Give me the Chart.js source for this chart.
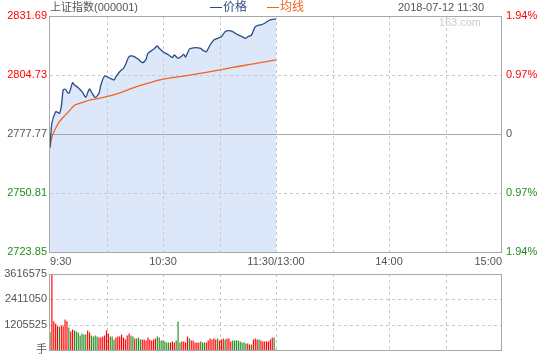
<!DOCTYPE html>
<html><head><meta charset="utf-8">
<script src="https://cdn.jsdelivr.net/npm/chart.js@4/dist/chart.umd.min.js"></script>
<style>
html,body{margin:0;padding:0;background:#fff;}
#wrap{position:relative;width:540px;height:360px;overflow:hidden;background:#fff;}
canvas{position:absolute;left:0;}
#c1{top:0;}
#c2{top:262px;}
</style></head><body>
<div id="wrap"><canvas id="c1" width="540" height="270"></canvas><canvas id="c2" width="540" height="98"></canvas></div>
<script>
// ---------- data ----------
const titleText = '上证指数(000001)';
const dateText = '2018-07-12 11:30';
const legendLabels = ['价格', '均线'];
const watermarkText = '163.com';
const basePrice = 2777.77;
const priceTicks = [2723.85, 2750.81, 2777.77, 2804.73, 2831.69];
const timeTicks = [0, 30, 60, 90, 120, 150, 180, 210, 240];
const timeLabels = {0: '9:30', 60: '10:30', 120: '11:30/13:00', 180: '14:00', 240: '15:00'};

const priceMinutes = [0, 1, 3, 4, 5, 6, 7, 8, 10, 12, 13, 15, 17, 19, 20, 21, 22, 24, 26, 27, 29, 32, 34, 35, 37, 39, 40, 42, 44, 47, 49, 51, 52, 55, 57, 58, 60, 63, 65, 66, 68, 70, 71, 72, 74, 75, 77, 80, 81, 83, 85, 87, 89, 91, 93, 95, 97, 99, 102, 104, 105, 107, 109, 111, 112, 114, 116, 118, 120];
const priceValues = [2771.5, 2782.66, 2787.96, 2787.69, 2787.23, 2790.24, 2797.88, 2798.2, 2796.37, 2801.21, 2800.16, 2798.93, 2797.1, 2794.54, 2796.64, 2798.33, 2796.96, 2794.54, 2796.37, 2800.16, 2804.3, 2803.2, 2802.45, 2803.95, 2806.24, 2807.79, 2809.3, 2813.09, 2813.41, 2811.9, 2810.35, 2811.9, 2814.65, 2816.47, 2817.98, 2816.93, 2815.38, 2813.87, 2812.64, 2813.87, 2812.36, 2813.41, 2814.19, 2812.96, 2816.61, 2816.93, 2817.2, 2816.93, 2816.15, 2815.38, 2818.44, 2820.72, 2821.5, 2822.23, 2824.52, 2824.97, 2824.52, 2823.47, 2822.23, 2821.5, 2822.23, 2823.01, 2826.8, 2827.58, 2827.58, 2828.36, 2829.54, 2830.18, 2830.32];

const avgMinutes = [0, 1, 3, 5, 8, 11, 13, 17, 21, 26, 30, 35, 40, 46, 53, 60, 69, 78, 88, 97, 108, 120];
const avgValues = [2771.5, 2776.5, 2780.4, 2783.4, 2786.3, 2789.0, 2790.9, 2792.1, 2793.3, 2794.0, 2794.8, 2796.0, 2797.5, 2799.4, 2801.2, 2802.8, 2804.0, 2805.2, 2806.7, 2808.2, 2809.8, 2811.6];

const volumeTicks = [0, 1205525, 2411050, 3616575];
const volumeValues = [865000, 3616575, 1384000, 1274000, 1148000, 1116000, 1195000, 1148000, 1462000, 1384000,
  1085000, 896000, 991000, 943000, 896000, 849000, 708000, 802000, 755000, 755000,
  943000, 849000, 708000, 660000, 708000, 660000, 613000, 613000, 660000, 708000,
  943000, 802000, 660000, 660000, 519000, 613000, 660000, 660000, 755000, 613000,
  519000, 708000, 802000, 708000, 660000, 566000, 566000, 613000, 519000, 519000,
  519000, 472000, 613000, 519000, 472000, 519000, 566000, 660000, 613000, 472000,
  472000, 425000, 377000, 377000, 377000, 425000, 377000, 472000, 1368000, 377000,
  425000, 425000, 377000, 660000, 566000, 472000, 472000, 377000, 377000, 377000,
  425000, 377000, 377000, 377000, 472000, 566000, 519000, 566000, 519000, 566000,
  472000, 519000, 566000, 519000, 566000, 566000, 425000, 472000, 472000, 472000,
  472000, 425000, 377000, 377000, 330000, 330000, 283000, 283000, 519000, 566000,
  519000, 519000, 472000, 425000, 425000, 425000, 425000, 519000, 613000, 613000, 47000];
const volumeDir = [-1, 1, 1, 1, 1, -1, 1, 1, 1, 1,
  -1, 1, 1, -1, -1, -1, -1, -1, -1, -1,
  1, 1, -1, -1, -1, -1, 1, 1, 1, 1,
  1, 1, -1, -1, -1, 1, 1, 1, 1, 1,
  1, 1, 1, -1, -1, 1, -1, -1, -1, 1,
  1, 1, 1, 1, 1, 1, 1, -1, -1, -1,
  -1, -1, -1, -1, 1, 1, 1, -1, -1, -1,
  1, 1, 1, 1, -1, 1, 1, 1, 1, 1,
  -1, -1, -1, 1, 1, 1, 1, 1, 1, -1,
  1, 1, 1, -1, 1, 1, 1, -1, -1, -1,
  -1, -1, -1, -1, -1, 1, 1, -1, 1, 1,
  1, -1, 1, 1, 1, 1, 1, 1, 1, -1, 1];

// ---------- style ----------
const FONT = '"Liberation Sans", Arial, "Noto Sans CJK SC", sans-serif';
const RED = '#ff0000';
const GREEN = '#228b22';
const GRAY_TXT = '#555555';
const GRID = '#c8c8c8';
const BORDER = '#a8a8a8';
const NAVY = '#2b4c82';
const ORANGE = '#f0651e';
const FILL = '#dce7fa';

function tickColor(v) {
  if (Math.abs(v - basePrice) < 1e-6) return GRAY_TXT;
  return v > basePrice ? RED : GREEN;
}
function hline(ctx, x1, x2, y) { ctx.beginPath(); ctx.moveTo(x1, y); ctx.lineTo(x2, y); ctx.stroke(); }
function vline(ctx, x, y1, y2) { ctx.beginPath(); ctx.moveTo(x, y1); ctx.lineTo(x, y2); ctx.stroke(); }

function drawGrid(chart, yTicks, solidValue) {
  const {ctx, chartArea: a, scales} = chart;
  ctx.save();
  ctx.lineWidth = 1;
  ctx.strokeStyle = GRID;
  ctx.setLineDash([3, 3]);
  timeTicks.forEach(t => {
    if (t === timeTicks[0] || t === timeTicks[timeTicks.length - 1]) return;
    const x = Math.round(scales.x.getPixelForValue(t)) + 0.5;
    vline(ctx, x, a.top, a.bottom);
  });
  yTicks.forEach(v => {
    if (v === yTicks[0] || v === yTicks[yTicks.length - 1]) return;
    const y = Math.round(scales.y.getPixelForValue(v)) + 0.5;
    if (v === solidValue) {
      ctx.setLineDash([]);
      ctx.strokeStyle = BORDER;
      hline(ctx, a.left, a.right, y);
      ctx.setLineDash([3, 3]);
      ctx.strokeStyle = GRID;
    } else {
      hline(ctx, a.left, a.right, y);
    }
  });
  ctx.restore();
}
function drawBorder(chart) {
  const {ctx, chartArea: a} = chart;
  ctx.save();
  ctx.strokeStyle = BORDER;
  ctx.lineWidth = 1;
  ctx.strokeRect(Math.round(a.left) - 0.5, Math.round(a.top) + 0.5, Math.round(a.right - a.left), Math.round(a.bottom - a.top));
  ctx.restore();
}

const mainPlugin = {
  id: 'mainDecor',
  afterDatasetDraw(chart, args) {
    if (args.index === 2) drawGrid(chart, priceTicks, basePrice);
  },
  afterDraw(chart) {
    drawBorder(chart);
    const ctx = chart.ctx;
    ctx.save();
    ctx.textBaseline = 'middle';
    ctx.font = '11px ' + FONT;
    ctx.fillStyle = GRAY_TXT;
    ctx.textAlign = 'left';
    ctx.fillText(titleText, 50, 8);
    ctx.textAlign = 'right';
    ctx.fillText(dateText, 484, 8);
    // legend
    ctx.textAlign = 'left';
    ctx.font = '12px ' + FONT;
    ctx.lineWidth = 1;
    ctx.strokeStyle = NAVY; hline(ctx, 210, 222, 7.5);
    ctx.fillStyle = NAVY; ctx.fillText(legendLabels[0], 223, 8);
    ctx.strokeStyle = ORANGE; hline(ctx, 267, 279, 7.5);
    ctx.fillStyle = ORANGE; ctx.fillText(legendLabels[1], 280, 8);
    // watermark
    ctx.font = '11px ' + FONT;
    ctx.fillStyle = '#cccccc';
    ctx.textAlign = 'right';
    ctx.fillText(watermarkText, 481, 23);
    ctx.restore();
  }
};

const pricePts = priceMinutes.map((m, i) => ({x: m, y: priceValues[i]}));
const avgPts = avgMinutes.map((m, i) => ({x: m, y: avgValues[i]}));

new Chart(document.getElementById('c1'), {
  type: 'line',
  data: {
    datasets: [
      {data: pricePts, borderColor: NAVY, borderWidth: 1.3, pointRadius: 0, tension: 0.25, fill: false},
      {data: avgPts, borderColor: ORANGE, borderWidth: 1.3, pointRadius: 0, tension: 0.3, fill: false},
      {data: pricePts, borderWidth: 0, borderColor: 'rgba(0,0,0,0)', backgroundColor: FILL, pointRadius: 0, tension: 0.25, fill: 'start'}
    ]
  },
  options: {
    responsive: false, animation: false, devicePixelRatio: 1,
    layout: {padding: {top: 16, left: 0, right: 0, bottom: 0}},
    plugins: {legend: {display: false}, tooltip: {enabled: false}},
    scales: {
      x: {
        type: 'linear', min: 0, max: 240, offset: false,
        grid: {display: false, drawTicks: false}, border: {display: false},
        afterBuildTicks(s) { s.ticks = timeTicks.map(v => ({value: v})); },
        afterFit(s) { s.height = 18; },
        ticks: {autoSkip: false, maxRotation: 0, align: 'inner', padding: 3, color: GRAY_TXT,
          font: {family: FONT, size: 11}, callback: v => timeLabels[v] || ''}
      },
      y: {
        position: 'left', min: priceTicks[0], max: priceTicks[priceTicks.length - 1],
        grid: {display: false, drawTicks: false}, border: {display: false},
        afterBuildTicks(s) { s.ticks = priceTicks.map(v => ({value: v})); },
        afterFit(s) { s.width = 50; },
        ticks: {autoSkip: false, padding: 3, font: {family: FONT, size: 11},
          color: c => tickColor(c.tick.value), callback: v => v.toFixed(2)}
      },
      y1: {
        position: 'right', min: priceTicks[0], max: priceTicks[priceTicks.length - 1],
        grid: {display: false, drawTicks: false}, border: {display: false},
        afterBuildTicks(s) { s.ticks = priceTicks.map(v => ({value: v})); },
        afterFit(s) { s.width = 38; },
        ticks: {autoSkip: false, padding: 4, font: {family: FONT, size: 11},
          color: c => tickColor(c.tick.value),
          callback: v => Math.abs(v - basePrice) < 1e-6 ? '0' : (Math.abs(v - basePrice) / basePrice * 100).toFixed(2) + '%'}
      }
    }
  },
  plugins: [mainPlugin]
});

const volPlugin = {
  id: 'volDecor',
  beforeDatasetsDraw(chart) { drawGrid(chart, volumeTicks, null); },
  afterDraw(chart) { drawBorder(chart); }
};

new Chart(document.getElementById('c2'), {
  type: 'bar',
  data: {
    datasets: [{
      data: volumeValues.map((v, i) => ({x: i, y: v})),
      backgroundColor: volumeDir.map(d => d > 0 ? RED : GREEN),
      barThickness: 1.15, borderWidth: 0, inflateAmount: 0
    }]
  },
  options: {
    responsive: false, animation: false, devicePixelRatio: 1,
    layout: {padding: {top: 12, left: 0, right: 38, bottom: 9}},
    plugins: {legend: {display: false}, tooltip: {enabled: false}},
    scales: {
      x: {type: 'linear', min: 0, max: 240, offset: false, display: false, grid: {offset: false}},
      y: {
        min: 0, max: volumeTicks[volumeTicks.length - 1],
        grid: {display: false, drawTicks: false}, border: {display: false},
        afterBuildTicks(s) { s.ticks = volumeTicks.map(v => ({value: v})); },
        afterFit(s) { s.width = 50; },
        ticks: {autoSkip: false, padding: 3, color: GRAY_TXT, font: {family: FONT, size: 11},
          callback: v => v === 0 ? '手' : String(v)}
      }
    }
  },
  plugins: [volPlugin]
});
</script>
</body></html>
